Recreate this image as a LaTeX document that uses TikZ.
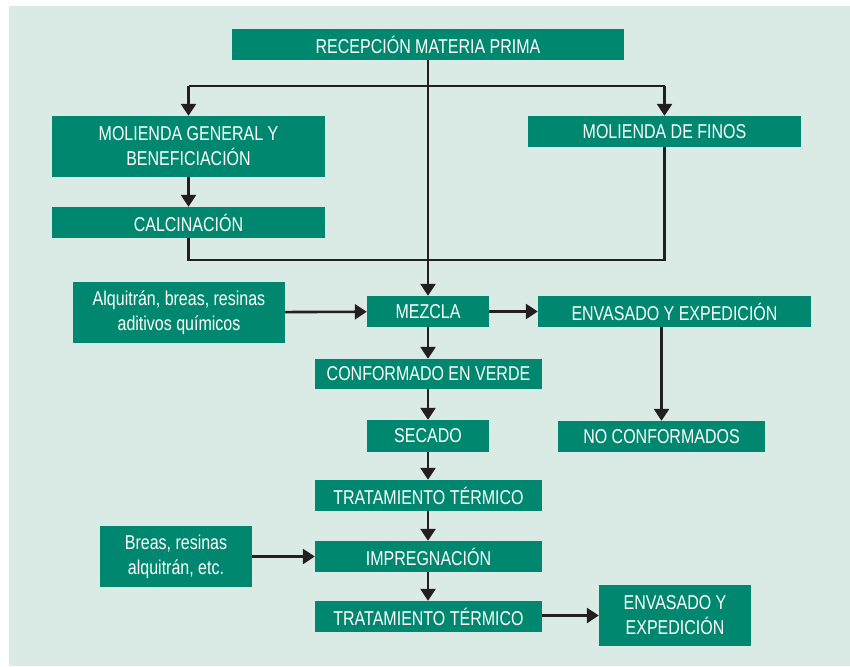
\documentclass[tikz,border=0pt]{standalone}
\usepackage{fontspec}
\setmainfont[FakeStretch=0.8]{Liberation Sans}
\usetikzlibrary{arrows.meta}
\definecolor{bgc}{HTML}{DAEAE4}
\definecolor{boxc}{HTML}{00876F}
\definecolor{linec}{HTML}{231F20}
\tikzset{
  pbox/.style={fill=boxc, text=white, inner sep=0pt, align=center,
    font=\fontsize{20}{25}\selectfont},
  conn/.style={draw=linec, line width=2.6pt},
  arr/.style={conn, -{Triangle[width=15pt,length=12pt]}}
}
\begin{document}
\begin{tikzpicture}[x=1pt,y=-1pt]
\useasboundingbox (0,0) rectangle (850,666);
\fill[bgc] (9,6) rectangle (850,666);
\node[pbox, minimum width=392pt, minimum height=31pt] (rec) at (428,44.5) {RECEPCIÓN MATERIA PRIMA};
\node[pbox, minimum width=273pt, minimum height=61pt] (mg) at (188.5,146.5) {MOLIENDA GENERAL Y\\BENEFICIACIÓN};
\node[pbox, minimum width=273pt, minimum height=31pt] (cal) at (188.5,222.5) {CALCINACIÓN};
\node[pbox, minimum width=273pt, minimum height=31pt] (fin) at (664.5,131.5) {MOLIENDA DE FINOS};
\node[pbox, minimum width=212pt, minimum height=61pt] (alq) at (179,312.5) {Alquitrán, breas, resinas\\aditivos químicos};
\node[pbox, minimum width=122pt, minimum height=31pt] (mez) at (428,311.5) {MEZCLA};
\node[pbox, minimum width=273pt, minimum height=31pt] (env1) at (674.5,311.5) {ENVASADO Y EXPEDICIÓN};
\node[pbox, minimum width=227pt, minimum height=30pt] (conf) at (428.5,374) {CONFORMADO EN VERDE};
\node[pbox, minimum width=122pt, minimum height=32pt] (sec) at (428,436) {SECADO};
\node[pbox, minimum width=207pt, minimum height=31pt] (noconf) at (661.5,436.5) {NO CONFORMADOS};
\node[pbox, minimum width=227pt, minimum height=31pt] (tt1) at (428.5,495.5) {TRATAMIENTO TÉRMICO};
\node[pbox, minimum width=227pt, minimum height=31pt] (imp) at (428.5,556.5) {IMPREGNACIÓN};
\node[pbox, minimum width=152pt, minimum height=61pt] (breas) at (176,556.5) {Breas, resinas\\alquitrán, etc.};
\node[pbox, minimum width=227pt, minimum height=31pt] (tt2) at (428.5,616.5) {TRATAMIENTO TÉRMICO};
\node[pbox, minimum width=152pt, minimum height=61pt] (env2) at (675,615.5) {ENVASADO Y\\EXPEDICIÓN};
\coordinate (bl) at (188.5,86);
\coordinate (br) at (664.5,86);
\coordinate (jl) at (188.5,260);
\coordinate (jr) at (664.5,260);
% connectors
\draw[arr] (rec.south -| mez) -- (mez.north);
\draw[conn] (bl) -- (br);
\draw[arr] (bl) -- (mg.north);
\draw[arr] (br) -- (fin.north);
\draw[arr] (mg) -- (cal);
\draw[conn] (cal.south) -- (jl) -- (jr) -- (fin.south);
\draw[arr] (alq) -- (mez);
\draw[arr] (mez) -- (env1);
\draw[arr] (env1.south -| noconf) -- (noconf.north);
\draw[arr] (mez.south) -- (conf.north -| mez);
\draw[arr] (conf.south -| mez) -- (sec.north);
\draw[arr] (sec.south) -- (tt1.north -| sec);
\draw[arr] (tt1.south -| sec) -- (imp.north -| sec);
\draw[arr] (imp.south -| sec) -- (tt2.north -| sec);
\draw[arr] (breas) -- (breas -| imp.west);
\draw[arr] (tt2.east |- env2) -- (env2.west);
\end{tikzpicture}
\end{document}
